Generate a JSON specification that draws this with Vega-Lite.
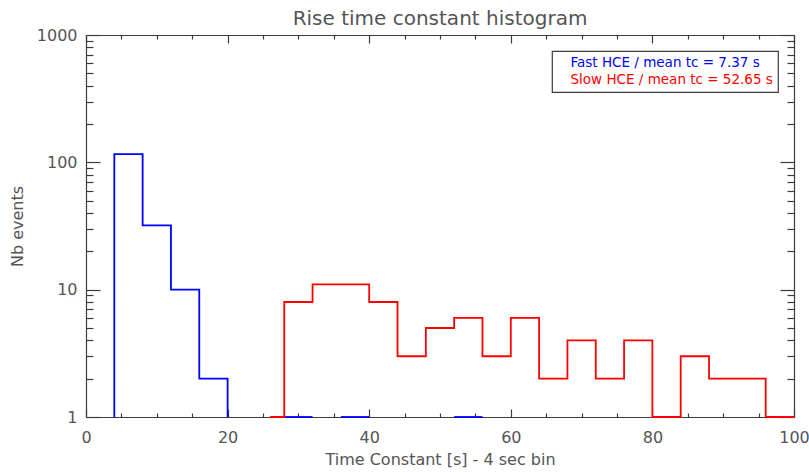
{
  "$schema": "https://vega.github.io/schema/vega-lite/v6.json",
  "width": 708,
  "height": 382,
  "autosize": {"type": "none"},
  "padding": {"left": 86, "top": 35, "right": 15, "bottom": 55},
  "background": "white",
  "title": {
    "text": "Rise time constant histogram",
    "font": "DejaVu Sans",
    "fontSize": 20,
    "fontWeight": "normal",
    "color": "#555555",
    "frame": "group",
    "anchor": "middle",
    "baseline": "alphabetic",
    "offset": -15,
    "dy": 3
  },
  "data": {
    "values": [
      {"series": "Fast HCE / mean tc = 7.37 s", "seg": "f1", "i": 1, "t": 4, "n": 1},
      {"series": "Fast HCE / mean tc = 7.37 s", "seg": "f1", "i": 2, "t": 4, "n": 116},
      {"series": "Fast HCE / mean tc = 7.37 s", "seg": "f1", "i": 3, "t": 8, "n": 32},
      {"series": "Fast HCE / mean tc = 7.37 s", "seg": "f1", "i": 4, "t": 12, "n": 10},
      {"series": "Fast HCE / mean tc = 7.37 s", "seg": "f1", "i": 5, "t": 16, "n": 2},
      {"series": "Fast HCE / mean tc = 7.37 s", "seg": "f1", "i": 6, "t": 20, "n": 1},
      {"series": "Fast HCE / mean tc = 7.37 s", "seg": "f2", "i": 7, "t": 28, "n": 1},
      {"series": "Fast HCE / mean tc = 7.37 s", "seg": "f2", "i": 8, "t": 32, "n": 1},
      {"series": "Fast HCE / mean tc = 7.37 s", "seg": "f3", "i": 9, "t": 36, "n": 1},
      {"series": "Fast HCE / mean tc = 7.37 s", "seg": "f3", "i": 10, "t": 40, "n": 1},
      {"series": "Fast HCE / mean tc = 7.37 s", "seg": "f4", "i": 11, "t": 52, "n": 1},
      {"series": "Fast HCE / mean tc = 7.37 s", "seg": "f4", "i": 12, "t": 56, "n": 1},
      {"series": "Slow HCE / mean tc = 52.65 s", "seg": "s1", "i": 20, "t": 26, "n": 1},
      {"series": "Slow HCE / mean tc = 52.65 s", "seg": "s1", "i": 21, "t": 28, "n": 8},
      {"series": "Slow HCE / mean tc = 52.65 s", "seg": "s1", "i": 22, "t": 32, "n": 11},
      {"series": "Slow HCE / mean tc = 52.65 s", "seg": "s1", "i": 23, "t": 36, "n": 11},
      {"series": "Slow HCE / mean tc = 52.65 s", "seg": "s1", "i": 24, "t": 40, "n": 8},
      {"series": "Slow HCE / mean tc = 52.65 s", "seg": "s1", "i": 25, "t": 44, "n": 3},
      {"series": "Slow HCE / mean tc = 52.65 s", "seg": "s1", "i": 26, "t": 48, "n": 5},
      {"series": "Slow HCE / mean tc = 52.65 s", "seg": "s1", "i": 27, "t": 52, "n": 6},
      {"series": "Slow HCE / mean tc = 52.65 s", "seg": "s1", "i": 28, "t": 56, "n": 3},
      {"series": "Slow HCE / mean tc = 52.65 s", "seg": "s1", "i": 29, "t": 60, "n": 6},
      {"series": "Slow HCE / mean tc = 52.65 s", "seg": "s1", "i": 30, "t": 64, "n": 2},
      {"series": "Slow HCE / mean tc = 52.65 s", "seg": "s1", "i": 31, "t": 68, "n": 4},
      {"series": "Slow HCE / mean tc = 52.65 s", "seg": "s1", "i": 32, "t": 72, "n": 2},
      {"series": "Slow HCE / mean tc = 52.65 s", "seg": "s1", "i": 33, "t": 76, "n": 4},
      {"series": "Slow HCE / mean tc = 52.65 s", "seg": "s1", "i": 34, "t": 80, "n": 1},
      {"series": "Slow HCE / mean tc = 52.65 s", "seg": "s1", "i": 35, "t": 84, "n": 3},
      {"series": "Slow HCE / mean tc = 52.65 s", "seg": "s1", "i": 36, "t": 88, "n": 2},
      {"series": "Slow HCE / mean tc = 52.65 s", "seg": "s1", "i": 37, "t": 92, "n": 2},
      {"series": "Slow HCE / mean tc = 52.65 s", "seg": "s1", "i": 38, "t": 96, "n": 1},
      {"series": "Slow HCE / mean tc = 52.65 s", "seg": "s1", "i": 39, "t": 100, "n": 1}
    ]
  },
  "resolve": {"axis": {"x": "independent", "y": "independent"}},
  "layer": [
    {
      "mark": {"type": "line", "interpolate": "step-after", "strokeWidth": 1.8},
      "encoding": {
        "x": {"field": "t", "type": "quantitative", "scale": {"domain": [0, 100], "nice": false, "zero": false},
          "axis": {"orient": "bottom", "values": [0, 20, 40, 60, 80, 100], "ticks": false, "domain": true, "labelPadding": 12, "title": "Time Constant [s] - 4 sec bin", "titlePadding": 6}},
        "y": {"field": "n", "type": "quantitative", "scale": {"type": "log", "domain": [1, 1000], "nice": false},
          "axis": {"orient": "left", "values": [1, 10, 100, 1000], "format": "d", "ticks": false, "domain": true, "labelPadding": 9, "title": "Nb events", "titlePadding": 11}},
        "color": {"field": "series", "type": "nominal",
          "scale": {"domain": ["Fast HCE / mean tc = 7.37 s", "Slow HCE / mean tc = 52.65 s"], "range": ["#0000ff", "#ff0000"]},
          "legend": {"orient": "none", "legendX": 466, "legendY": 16, "title": null,
            "encode": {"labels": {"update": {"fill": {"scale": "color", "field": "value"}}}}}},
        "detail": {"field": "seg"},
        "order": {"field": "i", "type": "quantitative"}
      }
    },
    {
      "mark": {"type": "point", "opacity": 0},
      "encoding": {
        "x": {"field": "t", "type": "quantitative", "scale": {"domain": [0, 100], "nice": false, "zero": false},
          "axis": {"orient": "bottom", "values": [0, 20, 40, 60, 80, 100], "labels": false, "domain": false, "tickSize": -8, "title": null}},
        "y": {"field": "n", "type": "quantitative", "scale": {"type": "log", "domain": [1, 1000], "nice": false},
          "axis": {"orient": "left", "values": [1, 10, 100, 1000], "labels": false, "domain": false, "tickSize": -14, "title": null}}
      }
    },
    {
      "mark": {"type": "point", "opacity": 0},
      "encoding": {
        "x": {"field": "t", "type": "quantitative", "scale": {"domain": [0, 100], "nice": false, "zero": false},
          "axis": {"orient": "bottom", "values": [5, 10, 15, 25, 30, 35, 45, 50, 55, 65, 70, 75, 85, 90, 95], "labels": false, "domain": false, "tickSize": -4, "title": null}},
        "y": {"field": "n", "type": "quantitative", "scale": {"type": "log", "domain": [1, 1000], "nice": false},
          "axis": {"orient": "left", "values": [2, 3, 4, 5, 6, 7, 8, 9, 20, 30, 40, 50, 60, 70, 80, 90, 200, 300, 400, 500, 600, 700, 800, 900], "labels": false, "domain": false, "tickSize": -7, "title": null}}
      }
    },
    {
      "mark": {"type": "point", "opacity": 0},
      "encoding": {
        "x": {"field": "t", "type": "quantitative", "scale": {"domain": [0, 100], "nice": false, "zero": false},
          "axis": {"orient": "top", "values": [0, 20, 40, 60, 80, 100], "labels": false, "domain": true, "tickSize": -8, "title": null}},
        "y": {"field": "n", "type": "quantitative", "scale": {"type": "log", "domain": [1, 1000], "nice": false},
          "axis": {"orient": "right", "values": [1, 10, 100, 1000], "labels": false, "domain": true, "tickSize": -14, "title": null}}
      }
    },
    {
      "mark": {"type": "point", "opacity": 0},
      "encoding": {
        "x": {"field": "t", "type": "quantitative", "scale": {"domain": [0, 100], "nice": false, "zero": false},
          "axis": {"orient": "top", "values": [5, 10, 15, 25, 30, 35, 45, 50, 55, 65, 70, 75, 85, 90, 95], "labels": false, "domain": false, "tickSize": -4, "title": null}},
        "y": {"field": "n", "type": "quantitative", "scale": {"type": "log", "domain": [1, 1000], "nice": false},
          "axis": {"orient": "right", "values": [2, 3, 4, 5, 6, 7, 8, 9, 20, 30, 40, 50, 60, 70, 80, 90, 200, 300, 400, 500, 600, 700, 800, 900], "labels": false, "domain": false, "tickSize": -7, "title": null}}
      }
    }
  ],
  "config": {
    "view": {"stroke": null},
    "font": "DejaVu Sans",
    "axis": {
      "grid": false,
      "domainColor": "#3c3c3c",
      "domainWidth": 1.2,
      "tickColor": "#3c3c3c",
      "tickWidth": 1.2,
      "labelFont": "DejaVu Sans",
      "labelFontSize": 16,
      "labelColor": "#555555",
      "titleFont": "DejaVu Sans",
      "titleFontSize": 16,
      "titleFontWeight": "normal",
      "titleColor": "#555555",
      "labelFlush": false,
      "labelOverlap": false
    },
    "legend": {
      "strokeColor": "#3c3c3c",
      "strokeWidth": 1.2,
      "fillColor": "white",
      "padding": 5,
      "symbolSize": 0,
      "symbolOpacity": 0,
      "symbolStrokeWidth": 0,
      "labelOffset": 0,
      "labelFont": "DejaVu Sans",
      "labelFontSize": 13.5,
      "labelLimit": 400,
      "rowPadding": 2
    }
  }
}
